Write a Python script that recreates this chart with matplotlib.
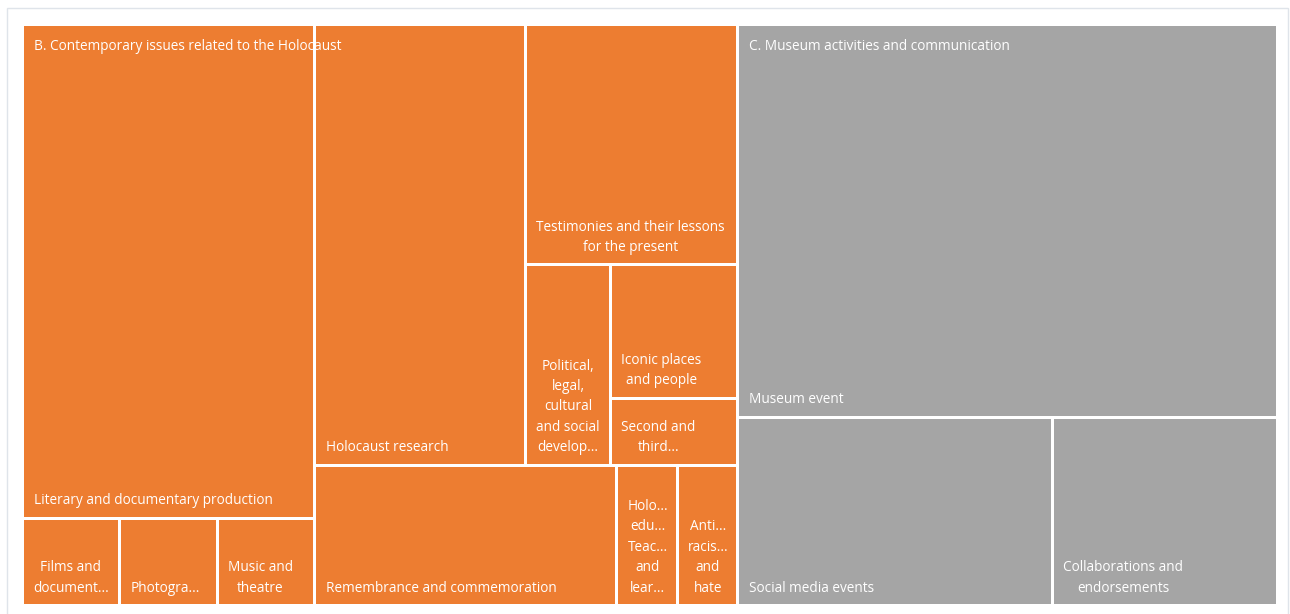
import matplotlib
matplotlib.use("Agg")
import matplotlib.pyplot as plt
from matplotlib.patches import Rectangle

# ---------------- data ----------------
groups = ["B. Contemporary issues related to the Holocaust",
          "C. Museum activities and communication"]
group_colors = ["#ED7D31", "#A5A5A5"]

b_items = ["Literary and documentary production", "Films and\ndocument...", "Photogra...",
           "Music and\ntheatre", "Holocaust research", "Testimonies and their lessons\nfor the present",
           "Political,\nlegal,\ncultural\nand social\ndevelop...", "Iconic places\nand people",
           "Second and\nthird...", "Remembrance and commemoration",
           "Holo...\nedu...\nTeac...\nand\nlear...", "Anti...\nracis...\nand\nhate"]
b_values = [17, 1, 1, 1, 11, 6, 2, 2, 1, 5, 1, 1]

c_items = ["Museum event", "Social media events", "Collaborations and\nendorsements"]
c_values = [25, 7, 5]

# label style: 'left' = single line at bottom-left, 'block' = wrapped block
b_styles = ["left", "block", "block", "block", "left", "block", "block", "block",
            "block", "left", "block", "block"]
c_styles = ["left", "left", "block"]

# slicing structure (which items are stacked as rows 'v' or placed side by side 'h')
b_tree = ("h", [("v", [0, ("h", [1, 2, 3])]),
                ("v", [("h", [4, ("v", [5, ("h", [6, ("v", [7, 8])])])]),
                       ("h", [9, 10, 11])])])
c_tree = ("v", [0, ("h", [1, 2])])

# ---------------- layout ----------------
W_FIG, H_FIG = 1290, 614
fig = plt.figure(figsize=(W_FIG / 100, H_FIG / 100), dpi=100)
fig.patch.set_facecolor("white")
fig.add_artist(Rectangle((7 / W_FIG, -0.01), (1288 - 7) / W_FIG, (614 - 8) / H_FIG + 0.01,
                         transform=fig.transFigure, fill=False, edgecolor="#dfe4ea", lw=1.0))

GAP = 3.0
L, T, R, B = 24 - GAP / 2, 26 - GAP / 2, 1276 + GAP / 2, 604 + GAP / 2
ax = fig.add_axes([L / W_FIG, 1 - B / H_FIG, (R - L) / W_FIG, (B - T) / H_FIG])
AW, AH = R - L, B - T
ax.set_xlim(0, AW)
ax.set_ylim(AH, 0)
ax.axis("off")


def total(node, values):
    if isinstance(node, int):
        return values[node]
    return sum(total(c, values) for c in node[1])


def layout(node, values, x, y, w, h, out):
    if isinstance(node, int):
        out[node] = (x, y, w, h)
        return
    d, children = node
    s = total(node, values)
    pos = 0.0
    for c in children:
        f = total(c, values) / s
        if d == "h":
            layout(c, values, x + pos * w, y, f * w, h, out)
        else:
            layout(c, values, x, y + pos * h, w, f * h, out)
        pos += f


FONT = ["Open Sans", "DejaVu Sans"]
FS = 9.85
PAD = GAP / 2

sb, sc = sum(b_values), sum(c_values)
wb = AW * sb / (sb + sc)
group_rects = [(0, 0, wb, AH), (wb, 0, AW - wb, AH)]

for gi, (items, values, tree, styles) in enumerate(
        [(b_items, b_values, b_tree, b_styles), (c_items, c_values, c_tree, c_styles)]):
    gx, gy, gw, gh = group_rects[gi]
    rects = {}
    layout(tree, values, gx, gy, gw, gh, rects)
    for i, name in enumerate(items):
        x, y, w, h = rects[i]
        ax.add_patch(Rectangle((x + PAD, y + PAD), w - 2 * PAD, h - 2 * PAD,
                               facecolor=group_colors[gi], edgecolor="none"))
        if styles[i] == "left":
            ax.text(x + PAD + 10, y + h - PAD - 12.5, name, color="white", fontsize=FS,
                    family=FONT, ha="left", va="baseline")
        else:
            ax.text(x + PAD + 9, y + h - PAD - 12.5, name, color="white", fontsize=FS,
                    family=FONT, ha="left", va="baseline", multialignment="center",
                    linespacing=1.49)
    ax.text(gx + PAD + 10, gy + PAD + 20, groups[gi], color="white", fontsize=FS,
            family=FONT, ha="left", va="center")

fig.savefig("out.png", dpi=100, facecolor="white")
